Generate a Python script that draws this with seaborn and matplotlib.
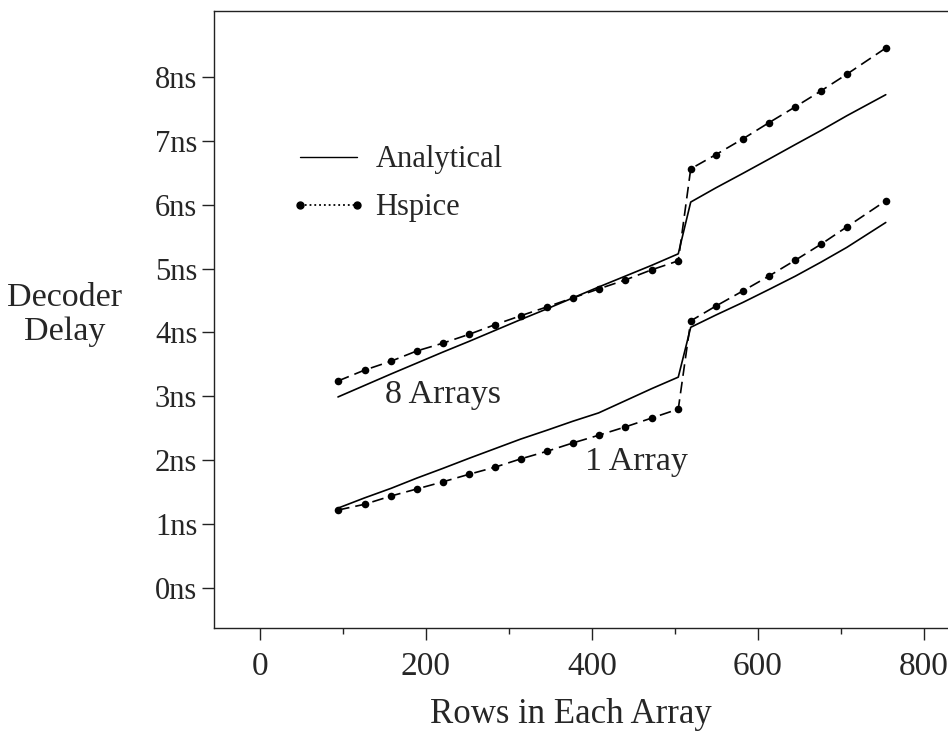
import matplotlib
matplotlib.use("Agg")
import matplotlib.pyplot as plt
from matplotlib.lines import Line2D
from matplotlib.ticker import FixedLocator
import seaborn as sns

# ---- data (rows per array, delay in ns) ----
x_vals = [94, 126, 158, 189, 220, 252, 283, 314, 346, 377, 408, 440, 472, 504,
          519, 549, 582, 613, 645, 676, 707, 754]

hspice_1 = [1.22, 1.31, 1.44, 1.55, 1.66, 1.78, 1.89, 2.02, 2.14, 2.27, 2.39, 2.52, 2.66, 2.80,
            4.18, 4.41, 4.65, 4.88, 5.13, 5.38, 5.65, 6.06]
analytic_1 = [1.25, 1.41, 1.56, 1.72, 1.87, 2.03, 2.18, 2.33, 2.47, 2.61, 2.74, 2.93, 3.12, 3.30,
              4.08, 4.27, 4.47, 4.67, 4.88, 5.10, 5.33, 5.72]
hspice_8 = [3.24, 3.41, 3.55, 3.71, 3.83, 3.97, 4.12, 4.26, 4.40, 4.54, 4.68, 4.82, 4.98, 5.12,
            6.56, 6.78, 7.03, 7.28, 7.53, 7.78, 8.04, 8.45]
analytic_8 = [2.99, 3.17, 3.35, 3.52, 3.69, 3.86, 4.03, 4.20, 4.37, 4.54, 4.71, 4.88, 5.05, 5.23,
              6.04, 6.26, 6.49, 6.71, 6.94, 7.16, 7.39, 7.72]

x_ticks = [0, 200, 400, 600, 800]
x_minor = [100, 300, 500, 700]
y_ticks = [0, 1, 2, 3, 4, 5, 6, 7, 8]
y_ticklabels = [f"{v}ns" for v in y_ticks]
legend_labels = ["Analytical", "Hspice"]
curve_labels = ["8 Arrays", "1 Array"]

sns.set_theme(style="white")
plt.rcParams["font.family"] = ["Liberation Serif", "DejaVu Serif"]
plt.rcParams["font.size"] = 24

fig = plt.figure(figsize=(9.48, 7.45), dpi=100)
ax = fig.add_axes([214 / 948, 117 / 745, 734 / 948, 617 / 745])

lw = 1.2
dash = (0, (7.0, 3.6))
for ys in (analytic_1, analytic_8):
    sns.lineplot(x=x_vals, y=ys, ax=ax, color="black", lw=lw, sort=False,
                 estimator=None)
for ys in (hspice_1, hspice_8):
    sns.lineplot(x=x_vals, y=ys, ax=ax, color="black", lw=lw, sort=False,
                 estimator=None, linestyle=dash)
    sns.scatterplot(x=x_vals, y=ys, ax=ax, color="black", s=30,
                    edgecolor="black", linewidth=0, zorder=3)

ax.set_xlim(-55.4, 829)
ax.set_ylim(-0.626, 9.03)

ax.xaxis.set_major_locator(FixedLocator(x_ticks))
ax.xaxis.set_minor_locator(FixedLocator(x_minor))
ax.yaxis.set_major_locator(FixedLocator(y_ticks))
ax.set_xticklabels([str(v) for v in x_ticks])
ax.set_yticklabels(y_ticklabels)

ax.tick_params(axis="both", which="major", direction="out", length=8.5,
               width=1.0, color="#222222", bottom=True, left=True)
ax.tick_params(axis="x", which="major", pad=8.5, labelsize=24)
ax.tick_params(axis="y", which="major", pad=3.5, labelsize=22)
ax.tick_params(axis="x", which="minor", direction="out", length=4,
               width=1.0, color="#222222", bottom=True)

for s in ("left", "bottom", "top"):
    ax.spines[s].set_visible(True)
    ax.spines[s].set_color("#222222")
    ax.spines[s].set_linewidth(1.0)
ax.spines["right"].set_visible(False)

ax.set_xlabel("Rows in Each Array", fontsize=25, va="center")
ax.xaxis.set_label_coords(0.486, -0.141)
ax.set_ylabel("Decoder\nDelay", fontsize=24.5, rotation=0, ha="center",
              va="center", linespacing=1.15)
ax.yaxis.set_label_coords(-0.203, 0.507)

ax.text(220, 3.02, curve_labels[0], ha="center", va="center", fontsize=24.5)
ax.text(454, 1.97, curve_labels[1], ha="center", va="center", fontsize=24.5)

handles = [
    Line2D([], [], color="black", lw=1.0),
    Line2D([], [], color="black", lw=1.3, linestyle=":", marker="o",
           markersize=5),
]
ax.legend(handles, legend_labels, loc="center left",
          bbox_to_anchor=(0.105, 0.720), frameon=False, fontsize=22,
          numpoints=2, handlelength=2.46, handletextpad=0.3,
          labelspacing=0.62, borderpad=0, borderaxespad=0)

fig.savefig("out.png", dpi=100)
